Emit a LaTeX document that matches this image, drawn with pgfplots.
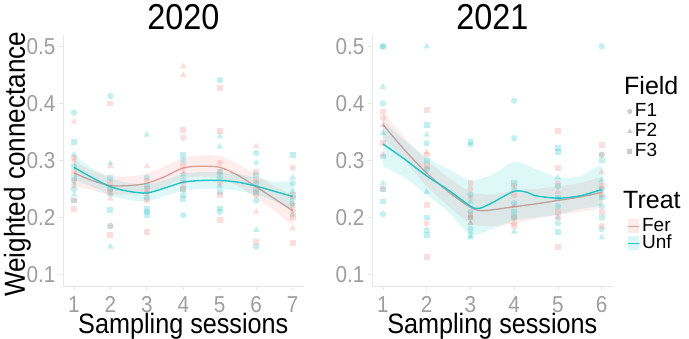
\documentclass[border=0pt]{standalone}
\usepackage{fontspec}
\setmainfont{Liberation Sans}[FakeStretch=0.9]
\newfontfamily\legfont{Liberation Sans}
\usepackage{pgfplots}
\pgfplotsset{compat=1.18}
\definecolor{ferc}{HTML}{F8766D}
\definecolor{unfc}{HTML}{00BFC4}
\definecolor{ferline}{HTML}{DC9C96}
\definecolor{unfline}{HTML}{1CC6C6}
\definecolor{ticklab}{HTML}{9E9E9E}
\definecolor{axline}{HTML}{E6E6E6}
\definecolor{legmark}{HTML}{CCCCCC}
\newcommand{\fs}[1]{\fontsize{#1}{#1}\selectfont}
\pgfplotsset{
  panel/.style={
    width=240.6pt, height=251pt, scale only axis, anchor=south west,
    axis lines=left, axis line style={-, draw=axline, line width=0.8pt},
    ymin=0.08, ymax=0.52,
    ytick={0.1,0.2,0.3,0.4,0.5},
    /pgf/number format/assume math mode=true,
    yticklabel style={/pgf/number format/fixed, /pgf/number format/fixed zerofill,
      /pgf/number format/precision=1},
    ticklabel style={font=\fs{23}, text=ticklab},
    xticklabel style={inner sep=1pt, yshift=-5.2pt},
    tick style={draw=axline, line width=0.8pt},
    major tick length=4pt, tick align=outside,
    xlabel={Sampling sessions},
    xlabel style={font=\fs{28}, inner sep=0pt, at={(axis description cs:0.5,-0.19)}, anchor=base},
    title style={font=\fs{36}, yshift=-4pt},
  },
  ptF/.style={only marks, mark options={draw opacity=0, fill=ferc, fill opacity=0.24}},
  ptU/.style={only marks, mark options={draw opacity=0, fill=unfc, fill opacity=0.24}},
  c/.style={mark=*, mark size=3.2pt},
  t/.style={mark=triangle*, mark size=3.8pt},
  s/.style={mark=square*, mark size=2.9pt},
  ribF/.style={fill=ferc, fill opacity=0.13, draw=none, smooth, tension=0.4, forget plot},
  ribU/.style={fill=unfc, fill opacity=0.13, draw=none, smooth, tension=0.4, forget plot},
  legmk/.style={only marks, mark options={draw opacity=0, fill=legmark},
    legend image code/.code={\draw plot coordinates {(5pt,0pt)};}},
  hiddenleg/.style={at={(372pt,53pt)}, anchor=south west, width=240.6pt, height=251pt,
    scale only axis, hide axis, xmin=0, xmax=1, ymin=0, ymax=1},
}
\begin{document}
\begin{tikzpicture}
\path[use as bounding box] (0,0) rectangle (689pt,339pt);
% ---------------- 2020 ----------------
\begin{axis}[panel, at={(63pt,53pt)}, xmin=0.7, xmax=7.3, xtick={1,2,3,4,5,6,7},
  title={2020}, ylabel={Weighted connectance},
  ylabel style={font=\fs{29}, at={(axis description cs:-0.19,0.485)}, anchor=center}]
% points
\addplot[ptU,c] coordinates {(1,0.384)(1,0.29)(1,0.25)(2,0.413)(2,0.25)(2,0.185)(3,0.27)(3,0.235)(3,0.21)(4,0.30)(4,0.265)(4,0.24)(4,0.204)(5,0.441)(5,0.27)(5,0.21)(6,0.313)(6,0.26)(6,0.23)(6,0.149)(7,0.26)(7,0.225)};
\addplot[ptU,t] coordinates {(1,0.31)(1,0.26)(1,0.24)(2,0.295)(2,0.149)(2,0.24)(3,0.345)(3,0.245)(4,0.275)(5,0.342)(5,0.324)(5,0.255)(6,0.296)(6,0.178)(7,0.27)(7,0.245)(7,0.205)};
\addplot[ptU,s] coordinates {(1,0.333)(1,0.27)(1,0.23)(2,0.27)(2,0.213)(3,0.255)(3,0.215)(3,0.205)(4,0.31)(4,0.25)(4,0.232)(5,0.28)(5,0.245)(5,0.216)(6,0.275)(6,0.245)(7,0.31)(7,0.235)};
\addplot[ptF,c] coordinates {(1,0.305)(1,0.265)(2,0.26)(2,0.185)(3,0.265)(3,0.23)(4,0.34)(4,0.26)(5,0.296)(5,0.26)(6,0.265)(6,0.24)(7,0.287)(7,0.22)};
\addplot[ptF,t] coordinates {(1,0.368)(1,0.3)(1,0.255)(2,0.29)(2,0.233)(3,0.29)(3,0.24)(4,0.465)(4,0.45)(4,0.28)(5,0.28)(6,0.325)(6,0.21)(7,0.181)};
\addplot[ptF,s] coordinates {(1,0.28)(1,0.23)(1,0.215)(2,0.40)(2,0.245)(2,0.169)(3,0.25)(3,0.175)(4,0.354)(4,0.29)(4,0.25)(5,0.427)(5,0.352)(5,0.24)(5,0.195)(6,0.28)(6,0.25)(6,0.157)(7,0.24)(7,0.21)(7,0.2)(7,0.155)};
% Fer smooth: ribbon (upper then lower reversed), line
\addplot[ribF] coordinates {(1,0.300)(1.5,0.282)(2,0.273)(2.5,0.272)(3,0.277)(3.5,0.290)(4,0.305)(4.5,0.309)(5,0.308)(5.5,0.294)(6,0.274)(6.5,0.255)(7,0.236)
  (7,0.188)(6.5,0.212)(6,0.234)(5.5,0.255)(5,0.269)(4.5,0.272)(4,0.269)(3.5,0.255)(3,0.244)(2.5,0.241)(2,0.240)(1.5,0.248)(1,0.256)} -- cycle;
\addplot[ferline, line width=1.3pt, smooth] coordinates {(1,0.278)(1.5,0.265)(2,0.256)(2.5,0.256)(3,0.260)(3.5,0.272)(4,0.287)(4.5,0.290)(5,0.288)(5.5,0.274)(6,0.254)(6.5,0.233)(7,0.212)};
% Unf smooth
\addplot[ribU] coordinates {(1,0.310)(1.5,0.286)(2,0.269)(2.5,0.261)(3,0.258)(3.5,0.266)(4,0.277)(4.5,0.280)(5,0.280)(5.5,0.277)(6,0.270)(6.5,0.263)(7,0.260)
  (7,0.214)(6.5,0.229)(6,0.240)(5.5,0.247)(5,0.250)(4.5,0.250)(4,0.247)(3.5,0.238)(3,0.228)(2.5,0.231)(2,0.239)(1.5,0.254)(1,0.266)} -- cycle;
\addplot[unfline, line width=1.4pt, smooth] coordinates {(1,0.288)(1.5,0.270)(2,0.254)(2.5,0.246)(3,0.243)(3.5,0.252)(4,0.262)(4.5,0.265)(5,0.265)(5.5,0.262)(6,0.255)(6.5,0.246)(7,0.237)};
\end{axis}
% ---------------- 2021 ----------------
\begin{axis}[panel, at={(372pt,53pt)}, xmin=0.75, xmax=6.25, xtick={1,2,3,4,5,6},
  title={2021},
  legend style={at={(axis description cs:1.06,0.73)}, anchor=north west, draw=none, fill=none,
    font=\legfont\fs{19}, row sep=3pt, inner sep=0pt, column sep=2pt,
    nodes={inner sep=0.5pt, text height=13pt, text depth=3pt}},
  legend cell align=left]
\addlegendimage{legmk, mark=*, mark size=2.6pt}\addlegendentry{F1}
\addlegendimage{legmk, mark=triangle*, mark size=3pt}\addlegendentry{F2}
\addlegendimage{legmk, mark=square*, mark size=2.4pt}\addlegendentry{F3}
% points
\addplot[ptU,c,forget plot] coordinates {(1,0.5)(1,0.5)(1,0.40)(1,0.206)(2,0.33)(2,0.285)(2,0.178)(3,0.24)(3,0.21)(3,0.18)(4,0.405)(4,0.339)(4,0.225)(4,0.2)(5,0.255)(5,0.22)(5,0.19)(6,0.5)(6,0.31)(6,0.25)(6,0.22)(6,0.18)};
\addplot[ptU,t,forget plot] coordinates {(1,0.429)(1,0.348)(1,0.26)(2,0.5)(2,0.345)(2,0.245)(3,0.228)(3,0.19)(3,0.165)(4,0.25)(4,0.175)(5,0.27)(5,0.2)(6,0.265)(6,0.165)};
\addplot[ptU,s,forget plot] coordinates {(1,0.307)(1,0.25)(1,0.228)(2,0.362)(2,0.3)(2,0.2)(2,0.17)(3,0.333)(3,0.328)(3,0.2)(3,0.17)(4,0.26)(4,0.21)(5,0.322)(5,0.315)(5,0.235)(5,0.175)(6,0.3)(6,0.235)(6,0.2)};
\addplot[ptF,c,forget plot] coordinates {(1,0.375)(1,0.25)(2,0.31)(2,0.19)(3,0.25)(3,0.2)(4,0.24)(4,0.19)(5,0.26)(5,0.2)(6,0.31)(6,0.24)(6,0.185)};
\addplot[ptF,t,forget plot] coordinates {(1,0.362)(1,0.31)(2,0.315)(3,0.235)(3,0.19)(4,0.22)(5,0.245)(6,0.28)};
\addplot[ptF,s,forget plot] coordinates {(1,0.386)(1,0.33)(2,0.389)(2,0.29)(2,0.222)(2,0.131)(3,0.26)(3,0.205)(4,0.255)(4,0.2)(4,0.185)(5,0.352)(5,0.287)(5,0.21)(5,0.149)(6,0.327)(6,0.255)(6,0.21)};
% Fer smooth
\addplot[ribF] coordinates {(1,0.385)(1.5,0.340)(2,0.300)(2.5,0.270)(3,0.245)(3.5,0.240)(4,0.248)(4.5,0.250)(5,0.255)(5.5,0.260)(6,0.268)
  (6,0.220)(5.5,0.210)(5,0.205)(4.5,0.198)(4,0.190)(3.5,0.185)(3,0.190)(2.5,0.220)(2,0.255)(1.5,0.300)(1,0.340)} -- cycle;
\addplot[ferline, line width=1.3pt, smooth, forget plot] coordinates {(1,0.363)(1.5,0.318)(2,0.278)(2.5,0.245)(3,0.218)(3.3,0.212)(4,0.219)(4.5,0.224)(5,0.230)(5.5,0.236)(6,0.244)};
% Unf smooth
\addplot[ribU] coordinates {(1,0.370)(1.5,0.335)(2,0.305)(2.5,0.285)(3,0.265)(3.5,0.275)(4,0.298)(4.5,0.285)(5,0.270)(5.5,0.272)(6,0.290)
  (6,0.225)(5.5,0.215)(5,0.205)(4.5,0.200)(4,0.195)(3.5,0.180)(3,0.170)(2.5,0.210)(2,0.240)(1.5,0.270)(1,0.290)} -- cycle;
\addplot[unfline, line width=1.4pt, smooth, forget plot] coordinates {(1,0.329)(1.5,0.302)(2,0.273)(2.5,0.248)(3,0.220)(3.2,0.216)(3.5,0.226)(4,0.246)(4.3,0.244)(4.5,0.238)(5,0.234)(5.5,0.238)(6,0.249)};
\end{axis}
% ---------------- Treat legend (hidden axis) ----------------
\begin{axis}[hiddenleg,
  legend style={at={(axis description cs:1.06,0.272)}, anchor=north west, draw=none, fill=none,
    font=\legfont\fs{19}, row sep=0pt, inner sep=0pt, column sep=2pt,
    nodes={inner sep=0.5pt, text height=13pt, text depth=3pt}},
  legend cell align=left]
\addplot[draw=none, forget plot] coordinates {(0.5,0.5)};
\addlegendimage{legend image code/.code={\path[fill=ferc, fill opacity=0.15, draw=none] (0pt,-7pt) rectangle (11pt,7pt); \draw[ferline, line width=1.3pt] (0pt,0pt) -- (11pt,0pt);}}\addlegendentry{Fer}
\addlegendimage{legend image code/.code={\path[fill=unfc, fill opacity=0.15, draw=none] (0pt,-7pt) rectangle (11pt,7pt); \draw[unfline, line width=1.4pt] (0pt,0pt) -- (11pt,0pt);}}\addlegendentry{Unf}
\end{axis}
% legend titles
\node[anchor=west, inner sep=0pt, font=\legfont\fs{25}] at (624pt,253pt) {Field};
\node[anchor=west, inner sep=0pt, font=\legfont\fs{25}] at (623pt,139pt) {Treat};
\end{tikzpicture}
\end{document}
